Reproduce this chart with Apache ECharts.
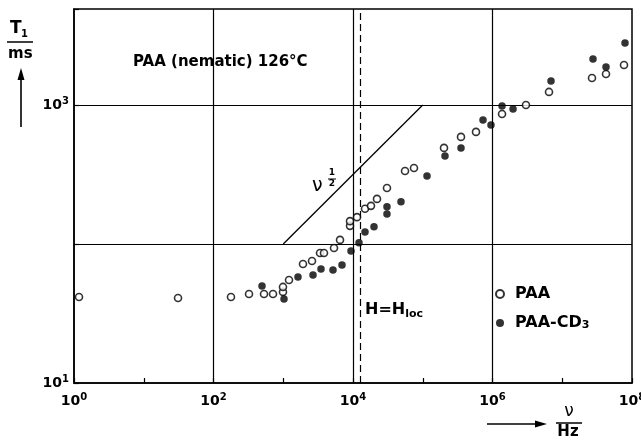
<!DOCTYPE html>
<html><head><meta charset="utf-8">
<script src="https://cdn.jsdelivr.net/npm/echarts@6/dist/echarts.min.js"></script>
<style>html,body{margin:0;padding:0;background:#fff}#c{width:641px;height:442px}</style>
</head><body><div id="c"></div>
<script>
// ---- data (frequency in Hz, T1 in ms) ----
const paaFreq = [1.18, 31, 178, 323, 530, 713, 991, 991, 1209, 1919, 2583, 3365, 3838, 5343, 6516, 9060, 9060, 11410, 14860, 18110, 22080, 30700, 55700, 74900, 201700, 353400, 580000, 1.37e6, 3.02e6, 6.46e6, 2.67e7, 4.24e7, 7.68e7];
const paaT1   = [41.6, 40.9, 41.6, 43.7, 43.7, 43.7, 45.2, 49.1, 55.1, 71.8, 75.5, 86.1, 86.1, 93.6, 107, 135, 146, 156, 179, 188, 211, 253, 335, 352, 491, 589, 640, 861, 1000, 1241, 1564, 1671, 1940];
const cd3Freq = [496, 1025, 1627, 2671, 3476, 5165, 6953, 9359, 12190, 14860, 20000, 30700, 30700, 48750, 115100, 208400, 353400, 731000, 951000, 1.37e6, 1.97e6, 6.9e6, 2.76e7, 4.24e7, 7.94e7];
const cd3T1   = [49.9, 40.2, 57.9, 59.8, 66.1, 65.0, 70.6, 89.1, 102, 122, 133, 164, 185, 201, 308, 430, 491, 780, 718, 984, 936, 1489, 2142, 1877, 2793];
const sqrtLineFreq = [1e3, 1e5];
const sqrtLineT1   = [100, 1000];
const hLocFreq = 12600;
const xGridValues = [1e2, 1e4, 1e6];
const yGridValues = [1e2, 1e3];
const xLabelExponents = [0, 2, 4, 6, 8];
const yLabelExponents = [1, 3];
const seriesNames = ['PAA', 'PAA-CD3'];

const F = 'DejaVu Sans';
const pairs = (xs, ys) => xs.map((x, i) => [x, ys[i]]);
const rich = {
  b: {fontSize: 14, fontWeight: 'bold', fontFamily: F, color: '#000', lineHeight: 18},
  s: {fontSize: 10, fontWeight: 'bold', fontFamily: F, color: '#000', lineHeight: 10, verticalAlign: 'top'}
};
const fmt = list => v => {
  const e = Math.round(Math.log10(v));
  return (list.indexOf(e) >= 0 && Math.abs(Math.log10(v) - e) < 1e-6) ? '{b|10}{s|' + e + '}' : '';
};

const chart = echarts.init(document.getElementById('c'), null, {renderer: 'canvas'});
chart.setOption({
  animation: false,
  backgroundColor: '#fff',
  grid: {left: 74, right: 9, top: 9, bottom: 59, containLabel: false, outerBoundsMode: 'none',
    show: true, borderColor: '#000', borderWidth: 1.5, backgroundColor: 'transparent'},
  xAxis: {
    type: 'log', logBase: 10, min: 1, max: 1e8, splitNumber: 8,
    axisLine: {show: true, onZero: false, lineStyle: {color: '#000', width: 1.5}},
    axisTick: {show: true, inside: true, length: 5, lineStyle: {color: '#000', width: 1.2}},
    axisLabel: {formatter: fmt(xLabelExponents), rich: rich, margin: 9, showMinLabel: true, showMaxLabel: true, hideOverlap: false},
    splitLine: {show: false}
  },
  yAxis: {
    type: 'log', logBase: 10, min: 10, max: 4900,
    axisLine: {show: true, onZero: false, lineStyle: {color: '#000', width: 1.5}},
    axisTick: {show: true, inside: true, length: 5, lineStyle: {color: '#000', width: 1.2}},
    axisLabel: {formatter: fmt(yLabelExponents), rich: rich, margin: 5, showMinLabel: true},
    splitLine: {show: false}
  },
  legend: {
    data: seriesNames, orient: 'vertical', left: 490, top: 281, itemGap: 12,
    itemWidth: 8, itemHeight: 8, icon: 'circle',
    textStyle: {fontFamily: F, fontSize: 16, fontWeight: 'bold', color: '#000', padding: [0, 0, 0, 6],
      rich: {sub: {fontFamily: F, fontSize: 11, fontWeight: 'bold', color: '#000', verticalAlign: 'bottom', lineHeight: 10, padding: [6, 0, 0, 0]}}},
    formatter: n => n === 'PAA-CD3' ? 'PAA-CD{sub|3}' : n
  },
  series: [
    {
      name: 'PAA', type: 'scatter', data: pairs(paaFreq, paaT1), symbol: 'circle', symbolSize: 7, z: 5,
      itemStyle: {color: '#fff', borderColor: '#000', borderWidth: 1.6},
      markLine: {
        silent: true, symbol: 'none', label: {show: false},
        lineStyle: {color: '#000', width: 1.2, type: 'solid'},
        data: [
          ...xGridValues.map(v => ({xAxis: v})),
          ...yGridValues.map(v => ({yAxis: v})),
          {xAxis: hLocFreq, lineStyle: {type: [7, 4], width: 1.2}}
        ]
      }
    },
    {
      name: 'PAA-CD3', type: 'scatter', data: pairs(cd3Freq, cd3T1), symbol: 'circle', symbolSize: 7.5, z: 6,
      itemStyle: {color: '#000'}
    },
    {
      name: 'sqrt', type: 'line', data: pairs(sqrtLineFreq, sqrtLineT1), symbol: 'none', silent: true,
      lineStyle: {color: '#000', width: 1.3}
    }
  ],
  graphic: [
    {type: 'text', x: 133, y: 62, style: {text: 'PAA (nematic) 126°C', font: 'bold 15px "DejaVu Sans"', fill: '#000', textVerticalAlign: 'middle'}},
    {type: 'text', x: 365, y: 310, style: {text: '{h|H=H}{l|loc}', fill: '#000', textVerticalAlign: 'middle',
      rich: {h: {fontFamily: F, fontSize: 16, fontWeight: 'bold', fill: '#000'}, l: {fontFamily: F, fontSize: 11, fontWeight: 'bold', fill: '#000', padding: [8, 0, 0, 0]}}}},
    // nu^(1/2) label
    {type: 'text', x: 312, y: 186, style: {text: 'ν', font: '19px "DejaVu Sans"', fill: '#000', textVerticalAlign: 'middle'}},
    {type: 'text', x: 332, y: 173, style: {text: '1', font: 'bold 9px "DejaVu Sans"', fill: '#000', textAlign: 'center', textVerticalAlign: 'middle'}},
    {type: 'line', shape: {x1: 328, y1: 179, x2: 336, y2: 179}, style: {stroke: '#000', lineWidth: 1}},
    {type: 'text', x: 332, y: 184, style: {text: '2', font: 'bold 9px "DejaVu Sans"', fill: '#000', textAlign: 'center', textVerticalAlign: 'middle'}},
    // y axis name T1 / ms with arrow
    {type: 'text', x: 10, y: 29, style: {text: 'T', font: 'bold 17px "DejaVu Sans"', fill: '#000', textVerticalAlign: 'middle'}},
    {type: 'text', x: 21, y: 34, style: {text: '1', font: 'bold 10px "DejaVu Sans"', fill: '#000', textVerticalAlign: 'middle'}},
    {type: 'line', shape: {x1: 7, y1: 42, x2: 33, y2: 42}, style: {stroke: '#000', lineWidth: 1.5}},
    {type: 'text', x: 8, y: 54, style: {text: 'ms', font: 'bold 15px "DejaVu Sans"', fill: '#000', textVerticalAlign: 'middle'}},
    {type: 'line', shape: {x1: 21, y1: 127, x2: 21, y2: 76}, style: {stroke: '#000', lineWidth: 1.6}},
    {type: 'polygon', shape: {points: [[17.5, 80], [24.5, 80], [21, 68]]}, style: {fill: '#000'}},
    // x axis name nu / Hz with arrow
    {type: 'text', x: 569, y: 412, style: {text: 'ν', font: '17px "DejaVu Sans"', fill: '#000', textAlign: 'center', textVerticalAlign: 'middle'}},
    {type: 'line', shape: {x1: 556, y1: 423, x2: 582, y2: 423}, style: {stroke: '#000', lineWidth: 1.5}},
    {type: 'text', x: 568, y: 432, style: {text: 'Hz', font: 'bold 15px "DejaVu Sans"', fill: '#000', textAlign: 'center', textVerticalAlign: 'middle'}},
    {type: 'line', shape: {x1: 487, y1: 424, x2: 537, y2: 424}, style: {stroke: '#000', lineWidth: 1.6}},
    {type: 'polygon', shape: {points: [[535, 420.5], [535, 427.5], [547, 424]]}, style: {fill: '#000'}}
  ]
});
</script>
</body></html>
